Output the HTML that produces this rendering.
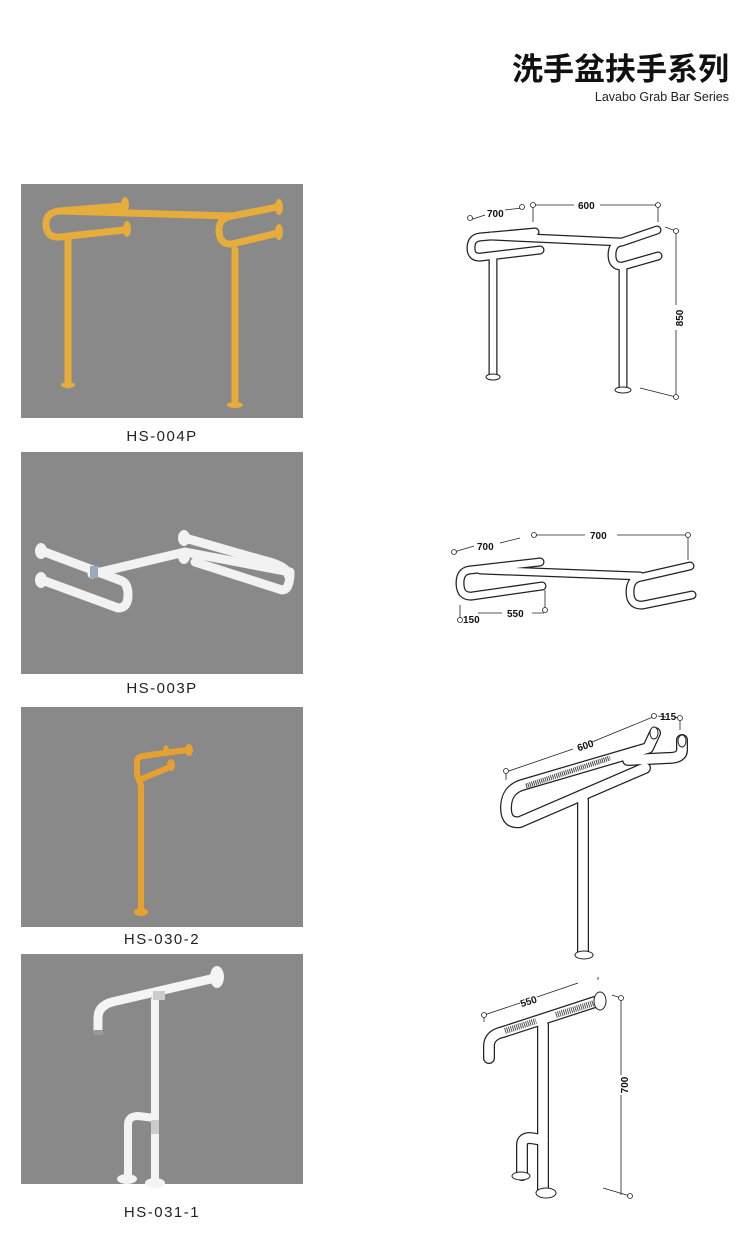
<!DOCTYPE html>
<html><head><meta charset="utf-8"><style>
body{margin:0;background:#fff;width:750px;height:1249px;overflow:hidden}
svg{display:block}
.lbl{font-family:"Liberation Sans",sans-serif;font-size:15px;letter-spacing:1.5px;fill:#222}
.dim{font-family:"Liberation Sans",sans-serif;font-size:10px;fill:#111;font-weight:bold}
</style></head><body>
<svg width="750" height="1249" viewBox="0 0 750 1249">
<text x="729" y="80" text-anchor="end" font-family="'Liberation Sans','Noto Sans CJK SC',sans-serif" font-size="31" font-weight="bold" fill="#111">洗手盆扶手系列</text>
<text x="729" y="101" text-anchor="end" font-family="'Liberation Sans',sans-serif" font-size="12.5" fill="#222">Lavabo Grab Bar Series</text>

<!-- gray boxes -->
<rect x="21" y="184" width="282" height="234" fill="#898989"/>
<rect x="21" y="452" width="282" height="222" fill="#898989"/>
<rect x="21" y="707" width="282" height="220" fill="#898989"/>
<rect x="21" y="954" width="282" height="230" fill="#898989"/>
<text x="162" y="441" text-anchor="middle" class="lbl">HS-004P</text>
<text x="162" y="693" text-anchor="middle" class="lbl">HS-003P</text>
<text x="162" y="944" text-anchor="middle" class="lbl">HS-030-2</text>
<text x="162" y="1217" text-anchor="middle" class="lbl">HS-031-1</text>

<!-- photo 1 orange -->
<g fill="none" stroke="#e6ad3a" stroke-width="7" stroke-linecap="round" stroke-linejoin="round">
<path d="M122,206 L60,211 Q46,212 46,224 Q46,238 60,237 L124,230"/>
<path d="M60,211 L232,216"/>
<path d="M278,207 L232,216 Q219,218 219,230 Q219,245 232,244 L278,233"/>
<path d="M68,240 V385"/><path d="M235,250 V404"/>
</g>
<g fill="#e6ad3a"><ellipse cx="125" cy="205" rx="4" ry="8"/><ellipse cx="127" cy="229" rx="4" ry="8"/><ellipse cx="279" cy="207" rx="4" ry="8"/><ellipse cx="279" cy="232" rx="4" ry="8"/><ellipse cx="68" cy="385" rx="7" ry="3"/><ellipse cx="235" cy="405" rx="8" ry="3"/></g>

<!-- photo 2 white -->
<g fill="none" stroke="#f2f2f2" stroke-width="9" stroke-linecap="round" stroke-linejoin="round">
<path d="M42,551 L122,581 Q128,584 128,595 Q128,608 118,608 L42,580"/>
<path d="M92,574 L185,552 L290,572 Q290,590 282,590 L195,562"/>
<path d="M185,538 L262,560 Q288,566 288,575"/>
</g>
<g fill="#f2f2f2"><ellipse cx="41" cy="551" rx="6" ry="8"/><ellipse cx="41" cy="580" rx="6" ry="8"/><ellipse cx="184" cy="538" rx="6" ry="8"/><ellipse cx="184" cy="556" rx="6" ry="8"/></g>
<rect x="90" y="566" width="8" height="12" fill="#9ab"/>

<!-- photo 3 orange -->
<g fill="none" stroke="#e6a030" stroke-width="6" stroke-linecap="round" stroke-linejoin="round">
<path d="M141,910 V785 L137,775 V762 Q137,757 143,756 L187,750"/>
<path d="M139,780 L170,767"/>
</g>
<g fill="#e8a030"><ellipse cx="189" cy="750" rx="4" ry="6"/><ellipse cx="171" cy="765" rx="4" ry="6"/><ellipse cx="166" cy="750" rx="3" ry="5"/><ellipse cx="141" cy="912" rx="7" ry="4"/></g>

<!-- photo 4 white -->
<g fill="none" stroke="#f4f4f4" stroke-linecap="round" stroke-linejoin="round">
<path d="M98,1030 V1018 Q98,1006 112,1002 L215,978" stroke-width="9"/>
<path d="M155,1000 V1182" stroke-width="8"/>
<path d="M128,1178 V1125 Q128,1116 138,1116 L155,1118" stroke-width="8"/>
</g>
<g fill="#f4f4f4"><ellipse cx="217" cy="977" rx="7" ry="11"/><ellipse cx="155" cy="1183" rx="10" ry="5"/><ellipse cx="127" cy="1179" rx="10" ry="5"/></g>
<rect x="94" y="1030" width="9" height="5" fill="#999"/>
<rect x="151" y="1120" width="8" height="14" fill="#ccc"/>
<rect x="153" y="991" width="12" height="9" fill="#ccc"/>

<!-- line drawings: tube helper via black wide + white narrow -->
<g fill="none" stroke-linecap="round" stroke-linejoin="round">
<g stroke="#222" stroke-width="9">
<path d="M535,232 L480,237 Q471,238 471,248 Q471,258 481,257 L540,250"/>
<path d="M490,236 L620,242"/>
<path d="M657,230 L622,242 Q612,243 612,255 Q612,267 623,266 L658,256"/>
<path d="M493,258 V375"/><path d="M623,268 V388"/>
</g>
<g stroke="#fff" stroke-width="6.5">
<path d="M535,232 L480,237 Q471,238 471,248 Q471,258 481,257 L540,250"/>
<path d="M490,236 L620,242"/>
<path d="M657,230 L622,242 Q612,243 612,255 Q612,267 623,266 L658,256"/>
<path d="M493,258 V375"/><path d="M623,268 V388"/>
</g>
</g>
<g fill="#fff" stroke="#222"><ellipse cx="493" cy="377" rx="7" ry="3"/><ellipse cx="623" cy="390" rx="8" ry="3"/></g>
<g stroke="#222" stroke-width="0.8" fill="#fff">
<path d="M470,220 L485,215 M505,210 L522,208 M533,205 V222 M533,205 L574,205 M600,205 L658,205 V222 M665,227 L676,231 V305 M676,330 V395 M640,388 L676,397" fill="none"/>
<circle cx="470" cy="218" r="2.5"/><circle cx="522" cy="207" r="2.5"/><circle cx="533" cy="205" r="2.5"/><circle cx="658" cy="205" r="2.5"/><circle cx="676" cy="231" r="2.5"/><circle cx="676" cy="397" r="2.5"/>
</g>
<text x="487" y="217" class="dim">700</text><text x="578" y="209" class="dim">600</text>
<text x="683" y="318" class="dim" transform="rotate(-90 683 318)" text-anchor="middle">850</text>

<!-- drawing 2 -->
<g fill="none" stroke-linecap="round" stroke-linejoin="round">
<g stroke="#222" stroke-width="9">
<path d="M540,562 L470,570 Q460,571 460,583 Q460,597 472,596 L542,586"/>
<path d="M480,570 L640,576"/>
<path d="M690,566 L642,577 Q630,578 630,592 Q630,606 643,605 L692,595"/>
</g>
<g stroke="#fff" stroke-width="6.5">
<path d="M540,562 L470,570 Q460,571 460,583 Q460,597 472,596 L542,586"/>
<path d="M480,570 L640,576"/>
<path d="M690,566 L642,577 Q630,578 630,592 Q630,606 643,605 L692,595"/>
</g>
</g>
<g stroke="#222" stroke-width="0.8" fill="#fff">
<path d="M454,552 L474,546 M500,543 L520,538 M535,535 L585,535 M617,535 L688,535 V560 M545,590 V610 M460,605 V620 M478,613 L502,613 M532,613 L544,613" fill="none"/>
<circle cx="454" cy="552" r="2.5"/><circle cx="534" cy="535" r="2.5"/><circle cx="688" cy="535" r="2.5"/><circle cx="545" cy="610" r="2.5"/><circle cx="460" cy="620" r="2.5"/>
</g>
<text x="477" y="550" class="dim" font-size="11">700</text><text x="590" y="539" class="dim" font-size="11">700</text>
<text x="463" y="623" class="dim" font-size="11">150</text><text x="507" y="617" class="dim" font-size="11">550</text>

<!-- drawing 3 -->
<g fill="none" stroke-linecap="round" stroke-linejoin="round">
<g stroke="#222" stroke-width="12">
<path d="M655,733 L648,748 L522,785 Q506,790 506,808 Q506,824 520,822 L645,768"/>
<path d="M682,740 V750 Q682,758 668,758 L628,760"/>
<path d="M583,800 V952"/>
</g>
<g stroke="#fff" stroke-width="9.5">
<path d="M655,733 L648,748 L522,785 Q506,790 506,808 Q506,824 520,822 L645,768"/>
<path d="M682,740 V750 Q682,758 668,758 L628,760"/>
<path d="M583,800 V952"/>
</g>
</g>
<path d="M526,786 L610,758" stroke="#444" stroke-width="5" stroke-dasharray="1 1"/>
<g fill="#fff" stroke="#222"><ellipse cx="584" cy="955" rx="9" ry="4"/><ellipse cx="654" cy="733" rx="4" ry="6"/><ellipse cx="682" cy="741" rx="4" ry="6"/></g>
<g stroke="#222" stroke-width="0.8" fill="#fff">
<path d="M506,780 V772 L573,749 M592,742 L653,717 M658,716 L666,717 M675,717 L680,719 V730" fill="none"/>
<circle cx="506" cy="771" r="2.5"/><circle cx="654" cy="716" r="2.5"/><circle cx="680" cy="718" r="2.5"/>
</g>
<text x="577" y="750" class="dim" font-size="9" transform="rotate(-18 582 746)">600</text>
<text x="660" y="720" class="dim" font-size="8">115</text>

<!-- drawing 4 -->
<g fill="none" stroke-linecap="round" stroke-linejoin="round">
<g stroke="#222" stroke-width="12">
<path d="M489,1058 V1046 Q489,1035 503,1032 L598,1001"/>
<path d="M543,1025 V1192"/>
<path d="M522,1175 V1145 Q522,1138 530,1138 L543,1140"/>
</g>
<g stroke="#fff" stroke-width="9.5">
<path d="M489,1058 V1046 Q489,1035 503,1032 L598,1001"/>
<path d="M543,1025 V1192"/>
<path d="M522,1175 V1145 Q522,1138 530,1138 L543,1140"/>
</g>
</g>
<path d="M505,1031 L536,1021 M556,1015 L594,1003" stroke="#555" stroke-width="6" stroke-dasharray="1 1"/>
<g fill="#fff" stroke="#222"><ellipse cx="600" cy="1001" rx="6" ry="9"/><ellipse cx="546" cy="1193" rx="10" ry="5"/><ellipse cx="521" cy="1176" rx="9" ry="4"/></g>
<g stroke="#222" stroke-width="0.8" fill="#fff">
<path d="M484,1015 V1022 M484,1015 L520,1003 M537,997 L578,983 M598,977 V980 M612,995 L621,998 V1075 M621,1095 V1195 M603,1188 L630,1196" fill="none"/>
<circle cx="484" cy="1015" r="2.5"/><circle cx="621" cy="998" r="2.5"/><circle cx="630" cy="1196" r="2.5"/>
</g>
<text x="520" y="1005" class="dim" font-size="9" transform="rotate(-18 528 1001)">550</text>
<text x="628" y="1085" class="dim" font-size="8" transform="rotate(-90 628 1085)" text-anchor="middle">700</text>
</svg>
</body></html>
